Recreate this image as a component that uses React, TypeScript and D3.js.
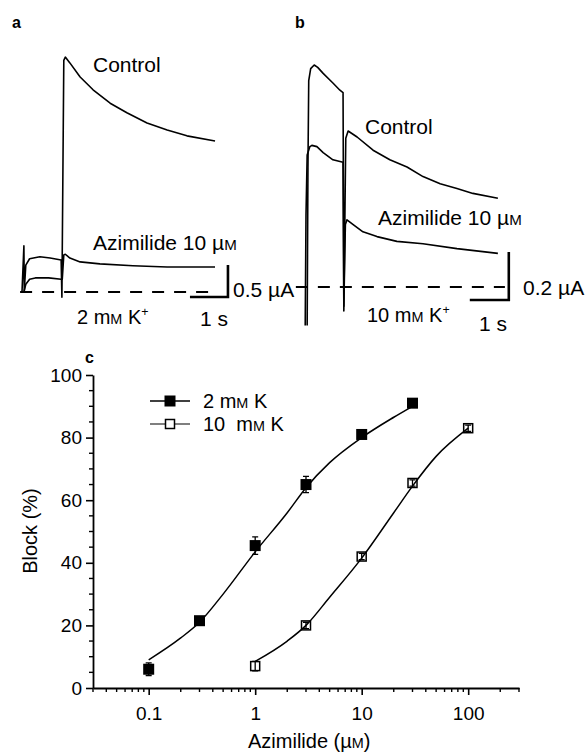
import React, { useRef, useEffect } from "react";
import * as d3 from "d3";

// panel a (2 mM K+) traces, [time s, current µA]
const traceAControl: [number, number][] = [
  [0, 0], [0.05, 0.72], [0.06, 0.02], [0.1, 0.42], [0.2, 0.52], [0.47, 0.55], [0.74, 0.53],
  [1.03, 0.5], [1.05, -0.08], [1.1, 3.62], [1.14, 3.67], [1.26, 3.58], [1.53, 3.36],
  [1.87, 3.16], [2.32, 2.95], [2.76, 2.8], [3.29, 2.64], [3.82, 2.53], [4.34, 2.44], [5.08, 2.36],
];
const traceAAzimilide: [number, number][] = [
  [0.05, 0], [0.1, 0.12], [0.2, 0.2], [0.35, 0.22], [0.7, 0.22], [1.03, 0.2], [1.06, 0.2],
  [1.1, 0.58], [1.14, 0.59], [1.26, 0.53], [1.53, 0.47], [2.05, 0.44], [2.92, 0.41],
  [3.82, 0.39], [5.08, 0.39],
];
// panel b (10 mM K+) traces
const traceBControl: [number, number][] = [
  [0.03, -0.16], [0.05, 0.5], [0.07, 0.86], [0.12, 0.91], [0.21, 0.925], [0.3, 0.915],
  [0.44, 0.89], [0.69, 0.85], [0.87, 0.82], [0.95, 0.81], [0.97, -0.1], [1.02, 0.62],
  [1.08, 0.65], [1.31, 0.625], [1.72, 0.57], [2.15, 0.53], [2.59, 0.5], [3.0, 0.46],
  [3.44, 0.43], [3.87, 0.41], [4.28, 0.39], [4.92, 0.37],
];
const traceBAzimilide: [number, number][] = [
  [-0.02, -0.16], [0, 0.3], [0.03, 0.55], [0.1, 0.585], [0.15, 0.59], [0.28, 0.585],
  [0.44, 0.56], [0.69, 0.53], [0.95, 0.52], [0.97, -0.08], [1.01, 0.26], [1.05, 0.28],
  [1.21, 0.26], [1.46, 0.23], [1.82, 0.21], [2.33, 0.19], [3.0, 0.18], [3.87, 0.16], [4.92, 0.14],
];

// panel c, concentration-response
const conc2mM = [0.1, 0.3, 1, 3, 10, 30];
const block2mM = [6, 21.5, 45.5, 65, 81, 91];
const err2mM = [2, 1.2, 2.8, 2.6, 1.2, 1];
const conc10mM = [1, 3, 10, 30, 100];
const block10mM = [7, 20, 42, 65.5, 83];
const err10mM = [1.5, 1, 1, 1, 1];
const fitConc2mM = [0.1, 0.2, 0.3, 0.5, 1, 2, 3, 5, 10, 20, 30];
const fitBlock2mM = [9, 16, 21, 30, 43.5, 56, 64, 72, 80, 86.5, 90];
const fitConc10mM = [1, 2, 3, 5, 10, 20, 30, 50, 100];
const fitBlock10mM = [8.5, 15, 20, 29, 41.5, 56, 64.5, 74, 83];
const yTicks = [0, 20, 40, 60, 80, 100];
const xTicks = [0.1, 1, 10, 100];
const xTickLabels = ["0.1", "1", "10", "100"];

const FONT = "'Liberation Sans', Arial, Helvetica, sans-serif";

type Seg = [string, string?];

const App = () => {
  const svgRef = useRef<SVGSVGElement>(null);

  useEffect(() => {
    const svg = d3.select(svgRef.current);
    svg.selectAll("*").remove();

    const label = (x: number, y: number, size: number, segs: Seg[], bold = false) => {
      const t = svg
        .append("text")
        .attr("x", x)
        .attr("y", y)
        .attr("font-family", FONT)
        .attr("font-size", size)
        .attr("font-weight", bold ? "bold" : "normal")
        .style("white-space", "pre");
      segs.forEach(([s, kind]) => {
        const ts = t.append("tspan").text(s);
        if (kind === "sc") ts.attr("font-size", size * 0.72);
        if (kind === "sup") ts.attr("font-size", size * 0.62).attr("dy", -size * 0.38);
      });
      return t;
    };

    // ---------- panels a & b ----------
    const drawTraces = (
      xs: d3.ScaleLinear<number, number>,
      ys: d3.ScaleLinear<number, number>,
      traces: [number, number][][],
      dash: [number, number],
      barT: [number, number],
      barI: [number, number]
    ) => {
      const g = svg.append("g");
      const line = d3
        .line<[number, number]>()
        .x((d) => xs(d[0]))
        .y((d) => ys(d[1]));
      g.append("line")
        .attr("x1", xs(dash[0]))
        .attr("x2", xs(dash[1]))
        .attr("y1", ys(0))
        .attr("y2", ys(0))
        .attr("stroke", "#000")
        .attr("stroke-width", 1.8)
        .attr("stroke-dasharray", "12,10");
      traces.forEach((tr) => {
        g.append("path")
          .attr("d", line(tr))
          .attr("fill", "none")
          .attr("stroke", "#000")
          .attr("stroke-width", 1.6)
          .attr("stroke-linejoin", "round");
      });
      // scale bar
      g.append("path")
        .attr("d", `M${xs(barT[0])},${ys(barI[0])}H${xs(barT[1])}V${ys(barI[1])}`)
        .attr("fill", "none")
        .attr("stroke", "#000")
        .attr("stroke-width", 2.6);
    };

    const xA = d3.scaleLinear().domain([0, 1]).range([22, 60]);
    const yA = d3.scaleLinear().domain([0, 1]).range([292, 228]);
    drawTraces(xA, yA, [traceAControl, traceAAzimilide], [-0.05, 5.1], [4.42, 5.42], [-0.078, 0.422]);

    const xB = d3.scaleLinear().domain([0, 1]).range([306, 345]);
    const yB = d3.scaleLinear().domain([0, 1]).range([287, 47]);
    drawTraces(xB, yB, [traceBControl, traceBAzimilide], [-0.26, 5.1], [4.2, 5.2], [-0.054, 0.146]);

    label(12, 28, 16, [["a"]], true);
    label(295, 28, 16, [["b"]], true);
    label(93, 72, 21, [["Control"]]);
    label(93, 250, 21, [["Azimilide 10 µ"], ["M", "sc"]]);
    label(233, 297, 21, [["0.5 µA"]]);
    label(77, 324, 20, [["2 m"], ["M", "sc"], [" K"], ["+", "sup"]]);
    label(200, 326, 21, [["1 s"]]);
    label(365, 134, 21, [["Control"]]);
    label(378, 225, 21, [["Azimilide 10 µ"], ["M", "sc"]]);
    label(523, 295, 21, [["0.2 µA"]]);
    label(367, 322, 20, [["10 m"], ["M", "sc"], [" K"], ["+", "sup"]]);
    label(479, 331, 21, [["1 s"]]);

    // ---------- panel c ----------
    const x = d3.scaleLog().domain([0.03, 300]).range([93, 519]);
    const y = d3.scaleLinear().domain([0, 100]).range([688, 375]);

    const yAxis = d3
      .axisLeft(y)
      .tickValues(yTicks)
      .tickSize(7)
      .tickSizeOuter(0)
      .tickPadding(4);
    const gy = svg.append("g").attr("transform", `translate(${x(0.03)},0)`).call(yAxis);
    const minorY = d3.range(5, 100, 5).filter((v) => v % 20 !== 0);
    gy.selectAll(".minor")
      .data(minorY)
      .join("line")
      .attr("class", "minor")
      .attr("x1", 0)
      .attr("x2", -4)
      .attr("y1", (d) => y(d))
      .attr("y2", (d) => y(d))
      .attr("stroke", "#000")
      .attr("stroke-width", 1.4);

    const xAxis = d3
      .axisBottom(x)
      .tickValues(xTicks)
      .tickFormat((d, i) => xTickLabels[i])
      .tickSize(7)
      .tickSizeOuter(0)
      .tickPadding(12);
    const gx = svg.append("g").attr("transform", `translate(0,${y(0)})`).call(xAxis);
    const minorX: number[] = [];
    [-2, -1, 0, 1, 2].forEach((e) => {
      for (let k = 2; k <= 9; k++) {
        const v = k * Math.pow(10, e);
        if (v >= 0.03 && v <= 300) minorX.push(v);
      }
    });
    gx.selectAll(".minor")
      .data(minorX)
      .join("line")
      .attr("class", "minor")
      .attr("x1", (d) => x(d))
      .attr("x2", (d) => x(d))
      .attr("y1", 0)
      .attr("y2", 4)
      .attr("stroke", "#000")
      .attr("stroke-width", 1.4);

    [gx, gy].forEach((g) => {
      g.select(".domain").attr("stroke-width", 1.8);
      g.selectAll(".tick line").attr("stroke-width", 1.6);
      g.selectAll(".tick text").attr("font-family", FONT).attr("font-size", 19).attr("fill", "#000");
    });

    // fitted curves
    const fitLine = d3
      .line<[number, number]>()
      .x((d) => x(d[0]))
      .y((d) => y(d[1]))
      .curve(d3.curveMonotoneX);
    [
      fitConc2mM.map((c, i) => [c, fitBlock2mM[i]] as [number, number]),
      fitConc10mM.map((c, i) => [c, fitBlock10mM[i]] as [number, number]),
    ].forEach((pts) => {
      svg.append("path")
        .attr("d", fitLine(pts))
        .attr("fill", "none")
        .attr("stroke", "#000")
        .attr("stroke-width", 1.5);
    });

    const errBars = (conc: number[], block: number[], err: number[]) => {
      conc.forEach((c, i) => {
        const cx = x(c);
        const y1 = y(block[i] - err[i]);
        const y2 = y(block[i] + err[i]);
        svg.append("path")
          .attr("d", `M${cx},${y1}V${y2}M${cx - 3},${y1}H${cx + 3}M${cx - 3},${y2}H${cx + 3}`)
          .attr("stroke", "#000")
          .attr("stroke-width", 1.3)
          .attr("fill", "none");
      });
    };
    errBars(conc2mM, block2mM, err2mM);
    errBars(conc10mM, block10mM, err10mM);

    svg.selectAll(".filled")
      .data(conc2mM)
      .join("rect")
      .attr("class", "filled")
      .attr("x", (d) => x(d) - 5.5)
      .attr("y", (d, i) => y(block2mM[i]) - 5.5)
      .attr("width", 11)
      .attr("height", 11)
      .attr("fill", "#000");

    svg.selectAll(".open")
      .data(conc10mM)
      .join("rect")
      .attr("class", "open")
      .attr("x", (d) => x(d) - 4.5)
      .attr("y", (d, i) => y(block10mM[i]) - 4.5)
      .attr("width", 9)
      .attr("height", 9)
      .attr("fill", "none")
      .attr("stroke", "#000")
      .attr("stroke-width", 1.5);

    // legend
    const legend = svg.append("g");
    legend.append("line").attr("x1", 150).attr("x2", 190).attr("y1", 401).attr("y2", 401).attr("stroke", "#000").attr("stroke-width", 1.5);
    legend.append("rect").attr("x", 164.5).attr("y", 395.5).attr("width", 11).attr("height", 11).attr("fill", "#000");
    legend.append("line").attr("x1", 150).attr("x2", 190).attr("y1", 424).attr("y2", 424).attr("stroke", "#000").attr("stroke-width", 1.2);
    legend.append("rect").attr("x", 165.5).attr("y", 419.5).attr("width", 9).attr("height", 9).attr("fill", "#fff").attr("stroke", "#000").attr("stroke-width", 1.5);
    label(203, 408, 20, [["2 m"], ["M", "sc"], [" K"]]);
    label(203, 431, 20, [["10  m"], ["M", "sc"], [" K"]]);

    label(85, 363, 16, [["c"]], true);

    // axis titles
    label(248, 748, 20, [["Azimilide (µ"], ["M", "sc"], [")"]]);
    svg.append("text")
      .attr("transform", "translate(37,531) rotate(-90)")
      .attr("text-anchor", "middle")
      .attr("font-family", FONT)
      .attr("font-size", 20)
      .text("Block (%)");
  }, []);

  return (
    <svg
      ref={svgRef}
      width={586}
      height={753}
      style={{ position: "absolute", left: 0, top: 0, background: "#fff" }}
    />
  );
};

export default App;
